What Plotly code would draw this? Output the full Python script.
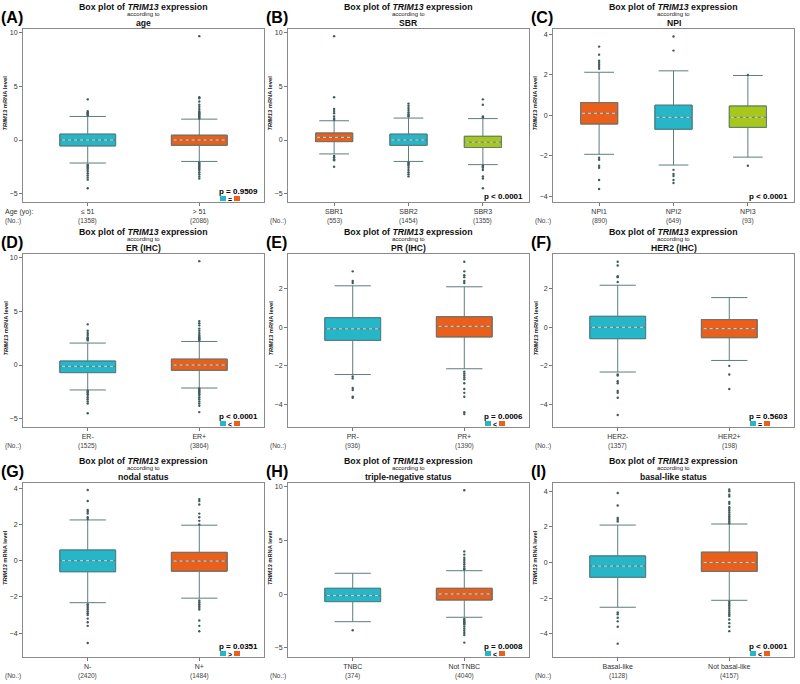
import plotly.graph_objects as go

# ---------------- data ----------------
letters = ["(A)", "(B)", "(C)", "(D)", "(E)", "(F)", "(G)", "(H)", "(I)"]
subjects = ["age", "SBR", "NPI", "ER (IHC)", "PR (IHC)", "HER2 (IHC)",
            "nodal status", "triple-negative status", "basal-like status"]
groups = [["≤ 51", "> 51"], ["SBR1", "SBR2", "SBR3"], ["NPI1", "NPI2", "NPI3"],
          ["ER-", "ER+"], ["PR-", "PR+"], ["HER2-", "HER2+"],
          ["N-", "N+"], ["TNBC", "Not TNBC"], ["Basal-like", "Not basal-like"]]
counts = [[1358, 2086], [553, 1454, 1355], [890, 649, 93],
          [1525, 3864], [936, 1390], [1357, 198],
          [2420, 1484], [374, 4040], [1128, 4157]]
q1 = [[-0.55, -0.50], [-0.15, -0.50, -0.70], [-0.43, -0.69, -0.60],
      [-0.71, -0.50], [-0.68, -0.50], [-0.59, -0.54],
      [-0.61, -0.58], [-0.68, -0.53], [-0.83, -0.50]]
median = [[0.0, 0.0], [0.25, 0.0, -0.20], [0.10, -0.10, -0.10],
          [-0.12, 0.0], [-0.08, 0.05], [0.0, -0.07],
          [0.0, -0.02], [-0.12, 0.03], [-0.20, 0.0]]
q3 = [[0.55, 0.45], [0.65, 0.55, 0.35], [0.63, 0.50, 0.46],
      [0.37, 0.55], [0.50, 0.55], [0.57, 0.40],
      [0.59, 0.46], [0.56, 0.56], [0.37, 0.58]]
lower = [[-2.15, -2.0], [-1.3, -2.0, -2.3], [-1.93, -2.46, -2.07],
         [-2.33, -2.15], [-2.45, -2.15], [-2.32, -1.72],
         [-2.32, -2.07], [-2.55, -2.14], [-2.51, -2.12]]
upper = [[2.2, 1.95], [1.8, 2.05, 2.0], [2.13, 2.2, 1.97],
         [2.05, 2.2], [2.15, 2.1], [2.18, 1.54],
         [2.25, 1.96], [1.96, 2.2], [2.1, 2.16]]
outliers = [
    [[2.3, 2.4, 2.5, 2.6, 2.7, 3.8, -2.3, -2.4, -2.5, -2.6, -2.7, -2.9, -3.1, -3.3, -3.5, -3.7, -4.5],
     [2.0, 2.1, 2.2, 2.3, 2.4, 2.5, 2.6, 2.7, 2.9, 3.1, 3.3, 3.6, 3.9, 4.0, 9.7,
      -2.1, -2.2, -2.3, -2.4, -2.5, -2.6, -2.7, -2.8, -3.0, -3.2, -3.4, -3.6]],
    [[1.9, 2.0, 2.2, 2.5, 2.7, 2.9, 4.0, 9.7, -1.5, -1.6, -1.8, -1.9, -2.5],
     [2.2, 2.3, 2.4, 2.6, 2.8, 3.0, 3.2, 3.4, -2.1, -2.2, -2.3, -2.4, -2.6, -2.8, -3.0, -3.2, -3.4],
     [2.1, 2.2, 3.3, 3.8, -2.4, -2.5, -2.6, -2.8, -3.4, -3.6, -4.5]],
    [[2.3, 2.4, 2.5, 2.6, 2.7, 3.0, 3.4, -2.1, -2.2, -2.5, -2.6, -3.2, -3.65],
     [3.2, 3.9, -2.7, -2.9, -3.0, -3.2, -3.35],
     [2.0, -2.5]],
    [[2.3, 2.4, 2.5, 2.6, 2.8, 3.0, 3.2, 3.8, -2.4, -2.5, -2.6, -2.7, -2.8, -3.0, -3.2, -3.4, -3.6, -4.5],
     [2.3, 2.4, 2.5, 2.6, 2.7, 2.8, 3.0, 3.2, 3.4, 3.7, 3.9, 4.1, 9.7,
      -2.2, -2.3, -2.4, -2.5, -2.6, -2.7, -2.8, -3.0, -3.2, -3.4, -3.6, -3.8, -4.4]],
    [[2.3, 2.4, 2.9, -2.55, -2.65, -3.15, -3.25, -3.6, -3.65],
     [2.3, 2.4, 2.6, 2.7, 2.9, 3.4, -2.3, -2.4, -2.5, -2.6, -2.7, -2.9, -3.2, -3.4, -3.6, -4.4, -4.5]],
    [[2.35, 2.6, 2.65, 3.2, 3.4, -2.45, -2.5, -2.8, -2.9, -3.3, -3.4, -3.65, -4.55],
     [-2.0, -2.45, -3.2]],
    [[2.3, 2.4, 2.6, 2.7, 2.8, 3.3, 3.9, -2.4, -2.5, -2.6, -2.7, -2.8, -2.9, -3.0, -3.2, -3.4, -3.6, -4.55],
     [2.0, 2.2, 2.4, 2.6, 3.1, 3.3, 3.4, -2.2, -2.3, -2.4, -2.5, -2.6, -2.7, -3.3, -3.6, -3.9]],
    [[-3.35],
     [2.3, 2.4, 2.6, 2.8, 3.0, 3.2, 3.4, 3.7, 4.0, 9.7,
      -2.3, -2.4, -2.5, -2.6, -2.7, -2.8, -3.0, -3.2, -3.4, -3.6, -3.8, -4.5]],
    [[2.3, 2.4, 2.5, 3.2, 3.9, -2.8, -2.9, -3.1, -3.3, -3.6, -4.55],
     [2.2, 2.3, 2.4, 2.5, 2.6, 2.7, 2.8, 2.9, 3.0, 3.1, 3.3, 3.4, 3.7, 3.8, 4.0, 4.1,
      -2.2, -2.3, -2.4, -2.5, -2.6, -2.7, -2.8, -2.9, -3.0, -3.2, -3.4, -3.6, -3.85]],
]
p_values = ["p = 0.9509", "p < 0.0001", "p < 0.0001", "p < 0.0001", "p = 0.0006",
            "p = 0.5603", "p = 0.0351", "p = 0.0008", "p < 0.0001"]
p_symbols = ["=", None, None, "<", "<", "=", ">", "<", "<"]
y_ticks = [[-5, 0, 5, 10], [-5, 0, 5, 10], [-4, -2, 0, 2, 4],
           [-5, 0, 5, 10], [-4, -2, 0, 2], [-4, -2, 0, 2],
           [-4, -2, 0, 2, 4], [-5, 0, 5, 10], [-4, -2, 0, 2, 4]]
y_ranges = [[-5.79, 10.37], [-5.79, 10.37], [-4.29, 4.27],
            [-5.79, 10.37], [-5.17, 3.8], [-5.17, 3.8],
            [-5.32, 4.29], [-5.84, 10.37], [-5.3, 4.46]]

# ---------------- style ----------------
TEAL, ORANGE, GREEN = "#27B5C8", "#EA5F1C", "#A7C71C"
EDGE = {TEAL: "#1D93A3", ORANGE: "#B94A15", GREEN: "#869F16"}
colors = [[TEAL, ORANGE], [ORANGE, TEAL, GREEN], [ORANGE, TEAL, GREEN],
          [TEAL, ORANGE], [TEAL, ORANGE], [TEAL, ORANGE],
          [TEAL, ORANGE], [TEAL, ORANGE], [TEAL, ORANGE]]
WHISK = "#5E7D7D"
DOT = "#3F5C5C"
FONT = "Arial, Liberation Sans, sans-serif"
W, H = 800, 684
col_px = [(23, 264), (288, 529), (553, 794)]
row_px = [(29, 202), (254, 427), (483, 657)]
BOXW = 0.5

fig = go.Figure()
annotations = []
shapes = []

for k in range(9):
    r, c = divmod(k, 3)
    x0, x1 = col_px[c]
    y0, y1 = row_px[r]
    n = len(groups[k])
    xs = list(range(n))
    sfx = "" if k == 0 else str(k + 1)
    xa, ya = "x" + sfx, "y" + sfx
    ww = 0.65 if n == 2 else 0.8

    # whiskers (and box frame underneath)
    fig.add_trace(go.Box(
        x=xs, q1=q1[k], median=median[k], q3=q3[k],
        lowerfence=lower[k], upperfence=upper[k],
        width=BOXW, whiskerwidth=ww, boxpoints=False,
        fillcolor="rgba(0,0,0,0)", line=dict(color=WHISK, width=1),
        xaxis=xa, yaxis=ya, showlegend=False, hoverinfo="skip"))
    # filled boxes
    fig.add_trace(go.Bar(
        x=xs, y=[b - a for a, b in zip(q1[k], q3[k])], base=q1[k], width=BOXW,
        marker=dict(color=colors[k], line=dict(color=[EDGE[cc] for cc in colors[k]], width=1)),
        xaxis=xa, yaxis=ya, showlegend=False, hoverinfo="skip"))
    # white dotted median
    mx, my = [], []
    for i, m in enumerate(median[k]):
        mx += [i - BOXW / 2 + 0.02, i + BOXW / 2 - 0.02, None]
        my += [m, m, None]
    fig.add_trace(go.Scatter(x=mx, y=my, mode="lines",
                             line=dict(color="rgba(255,255,255,0.9)", width=0.8, dash="dot"),
                             xaxis=xa, yaxis=ya, showlegend=False, hoverinfo="skip"))
    # outliers
    ox, oy = [], []
    for i, vals in enumerate(outliers[k]):
        ox += [i] * len(vals)
        oy += vals
    fig.add_trace(go.Scatter(x=ox, y=oy, mode="markers",
                             marker=dict(color=DOT, size=2.4),
                             xaxis=xa, yaxis=ya, showlegend=False, hoverinfo="skip"))

    pad = 0.58 if n == 2 else 0.62
    fig.layout["xaxis" + sfx] = dict(
        domain=[x0 / W, x1 / W], range=[-pad, n - 1 + pad], anchor=ya,
        tickvals=xs, ticktext=groups[k], ticks="outside", ticklen=3, tickcolor="#777",
        tickfont=dict(size=7, color="#333"), showline=True, mirror=True,
        linecolor="#8a8a8a", linewidth=1, showgrid=False, zeroline=False, fixedrange=True)
    fig.layout["yaxis" + sfx] = dict(
        domain=[1 - y1 / H, 1 - y0 / H], range=y_ranges[k], anchor=xa,
        tickvals=y_ticks[k], ticks="outside", ticklen=3, tickcolor="#777",
        tickfont=dict(size=7, color="#333"), showline=True, mirror=True,
        linecolor="#8a8a8a", linewidth=1, showgrid=False, zeroline=False, fixedrange=True)

    cx = (x0 + x1) / 2 / W
    # panel letter
    annotations.append(dict(text="<b>" + letters[k] + "</b>", x=(x0 - 24) / W, y=1 - (y0 - 12) / H,
                            xref="paper", yref="paper", xanchor="left", yanchor="middle",
                            showarrow=False, font=dict(size=16, color="black")))
    # titles
    annotations.append(dict(text="<b>Box plot of <i>TRIM13</i> expression</b>", x=cx, y=1 - (y0 - 22.5) / H,
                            xref="paper", yref="paper", xanchor="center", yanchor="middle",
                            showarrow=False, font=dict(size=8.8, color="#111")))
    annotations.append(dict(text="according to", x=cx, y=1 - (y0 - 15) / H,
                            xref="paper", yref="paper", xanchor="center", yanchor="middle",
                            showarrow=False, font=dict(size=6, color="#222")))
    annotations.append(dict(text="<b>" + subjects[k] + "</b>", x=cx, y=1 - (y0 - 6.5) / H,
                            xref="paper", yref="paper", xanchor="center", yanchor="middle",
                            showarrow=False, font=dict(size=8.6, color="#111")))
    # y title
    annotations.append(dict(text="<b><i>TRIM13</i> mRNA level</b>", x=(x0 - 18) / W,
                            y=1 - ((y0 + y1) / 2 - 12) / H, xref="paper", yref="paper",
                            xanchor="center", yanchor="middle", textangle=-90,
                            showarrow=False, font=dict(size=5.8, color="#222")))
    # counts
    for i, cnt in enumerate(counts[k]):
        annotations.append(dict(text="(%d)" % cnt, x=i, xref=xa, y=1 - (y1 + 19) / H, yref="paper",
                                xanchor="center", yanchor="middle", showarrow=False,
                                font=dict(size=6.5, color="#444")))
    annotations.append(dict(text="(No.:)", x=(x0 - 20) / W, y=1 - (y1 + 19) / H,
                            xref="paper", yref="paper", xanchor="left", yanchor="middle",
                            showarrow=False, font=dict(size=6.5, color="#444")))
    if k == 0:
        annotations.append(dict(text="Age (yo):", x=(x0 - 20) / W, y=1 - (y1 + 10) / H,
                                xref="paper", yref="paper", xanchor="left", yanchor="middle",
                                showarrow=False, font=dict(size=7, color="#333")))
    # p-value
    if p_symbols[k] is None:
        annotations.append(dict(text="<b>" + p_values[k] + "</b>", x=(x1 - 4) / W, y=1 - (y1 - 5.5) / H,
                                xref="paper", yref="paper", xanchor="right", yanchor="middle",
                                showarrow=False, font=dict(size=8, color="black")))
    else:
        annotations.append(dict(text="<b>" + p_values[k] + "</b>", x=(x1 - 4) / W, y=1 - (y1 - 10.5) / H,
                                xref="paper", yref="paper", xanchor="right", yanchor="middle",
                                showarrow=False, font=dict(size=8, color="black")))
        sq_left = x1 - 44
        for j, sx in enumerate([sq_left, sq_left + 14]):
            shapes.append(dict(type="rect", xref="paper", yref="paper",
                               x0=sx / W, x1=(sx + 6) / W, y0=1 - (y1 - 1) / H, y1=1 - (y1 - 6) / H,
                               fillcolor=colors[k][j], line=dict(width=0)))
        sym = p_symbols[k].replace("<", "&lt;").replace(">", "&gt;")
        annotations.append(dict(text="<b>%s</b>" % sym, x=(sq_left + 10) / W, y=1 - (y1 - 3) / H,
                                xref="paper", yref="paper", xanchor="center", yanchor="middle",
                                showarrow=False, font=dict(size=7, color="black")))

fig.update_layout(
    width=W, height=H, margin=dict(l=0, r=0, t=0, b=0),
    paper_bgcolor="white", plot_bgcolor="white",
    font=dict(family=FONT), barmode="overlay", boxmode="overlay",
    annotations=annotations, shapes=shapes, showlegend=False)

fig.write_html("out.html", config={"displayModeBar": False},
               post_script="document.body.style.margin='0';document.body.style.overflow='hidden';")
